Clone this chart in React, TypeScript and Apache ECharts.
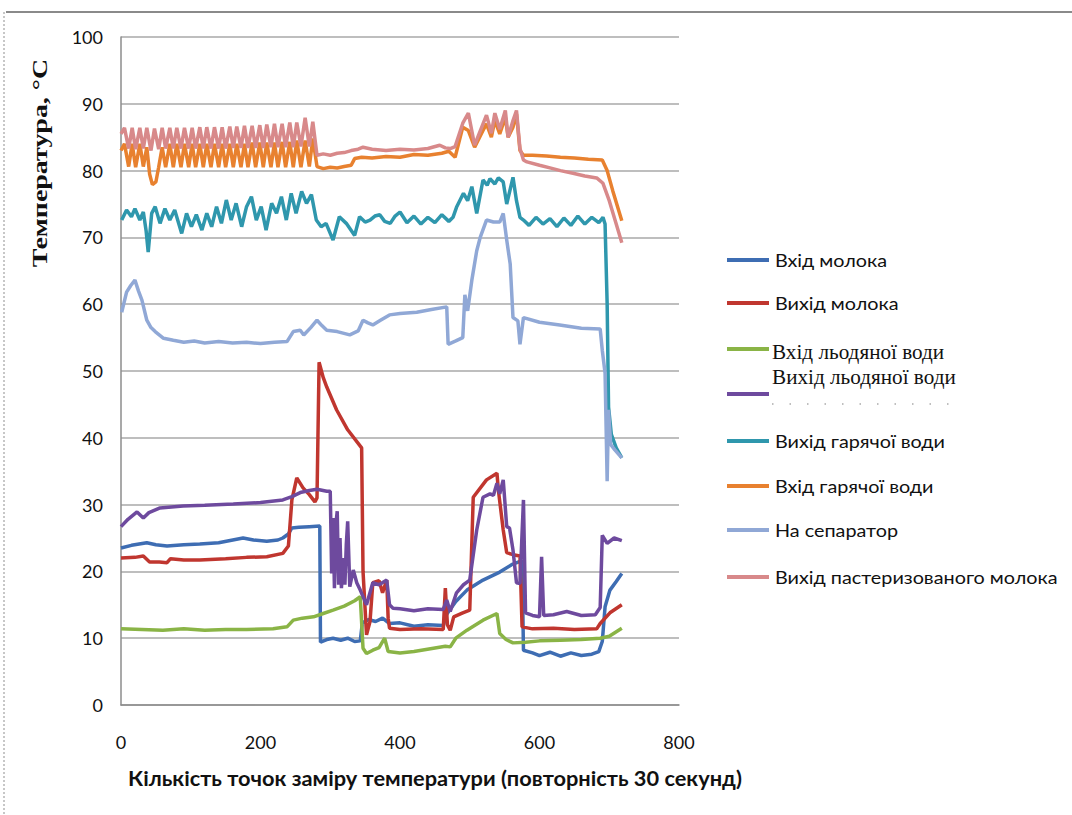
import { useEffect, useRef } from "react";
import * as echarts from "echarts";

// ---- data ----
const seriesNames = [
  "Вхід молока",
  "Вихід молока",
  "Вхід льодяної води",
  "Вихід льодяної води",
  "Вихід гарячої води",
  "Вхід гарячої води",
  "На сепаратор",
  "Вихід пастеризованого молока",
];
const seriesColors = ["#3E6DB3", "#C0362F", "#8AB446", "#6E4A9E", "#2F97AD", "#E8812F", "#90A8D6", "#D8898A"];

const xTicks = [0, 200, 400, 600, 800];
const yTicks = [0, 10, 20, 30, 40, 50, 60, 70, 80, 90, 100];

const milkIn = [
  [0, 23.5], [15, 23.9], [37, 24.3], [50, 24.0], [66, 23.8], [90, 24.0], [113, 24.1], [140, 24.3], [175, 25.0], [190, 24.7],
  [209, 24.5], [225, 24.7], [232, 25.0], [240, 25.6], [245, 26.5], [255, 26.6], [270, 26.7], [285, 26.8], [286, 9.4], [295, 9.8],
  [304, 10.0], [315, 9.7], [325, 10.0], [335, 9.5], [343, 9.6], [346, 12.3], [355, 12.8], [365, 12.5], [375, 13.0], [385, 12.2],
  [400, 12.3], [420, 11.8], [440, 12.0], [462, 11.9], [467, 13.6], [480, 15.5], [496, 17.2], [519, 18.7], [543, 19.9], [560, 21.0],
  [575, 21.6], [577, 8.2], [590, 7.8], [600, 7.4], [615, 7.9], [630, 7.3], [645, 7.8], [660, 7.4], [675, 7.6], [685, 8.0],
  [690, 9.5], [694, 14.7], [701, 17.2], [710, 18.5], [718, 19.7],
];

const milkOut = [
  [0, 22.0], [20, 22.1], [32, 22.3], [41, 21.4], [55, 21.4], [66, 21.3], [71, 21.9], [90, 21.7], [113, 21.7], [150, 21.9],
  [180, 22.1], [209, 22.2], [232, 22.7], [240, 23.8], [245, 30.7], [252, 34.0], [261, 32.5], [270, 31.5], [278, 30.4], [281, 31.0],
  [284, 51.3], [290, 49.0], [295, 47.6], [309, 44.2], [325, 41.2], [345, 38.5], [347, 20.0], [352, 10.5], [357, 12.5], [361, 18.3],
  [370, 18.6], [375, 16.8], [381, 18.7], [383, 13.0], [385, 11.5], [400, 11.3], [430, 11.4], [462, 11.3], [465, 17.5], [468, 12.0],
  [472, 11.2], [477, 13.2], [490, 13.8], [500, 14.2], [505, 31.1], [524, 33.7], [539, 34.7], [541, 32.2], [548, 26.2], [553, 22.8],
  [562, 22.5], [572, 22.3], [575, 11.7], [590, 11.4], [620, 11.5], [650, 11.3], [682, 11.4], [687, 12.2], [701, 13.8], [718, 15.0],
];

const iceWaterIn = [
  [0, 11.4], [30, 11.3], [60, 11.2], [90, 11.4], [120, 11.2], [150, 11.3], [180, 11.3], [218, 11.4], [238, 11.7], [247, 12.7],
  [260, 13.0], [276, 13.2], [290, 13.7], [304, 14.2], [320, 14.8], [335, 15.6], [343, 16.2], [347, 8.5], [352, 7.7], [361, 8.2],
  [370, 8.6], [378, 10.0], [383, 8.0], [400, 7.8], [420, 8.0], [448, 8.5], [465, 8.8], [472, 8.7], [480, 10.0], [496, 11.2],
  [519, 12.7], [539, 13.7], [543, 10.7], [552, 9.8], [562, 9.3], [580, 9.4], [600, 9.6], [630, 9.7], [660, 9.8], [687, 10.0],
  [700, 10.3], [718, 11.5],
];

const iceWaterOut = [
  [0, 26.7], [10, 27.8], [23, 28.9], [32, 28.0], [40, 28.8], [56, 29.5], [89, 29.8], [120, 29.9], [161, 30.1], [200, 30.3],
  [232, 30.7], [245, 31.2], [257, 31.8], [270, 32.1], [281, 32.3], [295, 32.0], [300, 32.0], [302, 19.7], [304, 28.0], [306, 17.5],
  [308, 27.0], [310, 29.0], [312, 18.0], [314, 25.0], [316, 17.5], [319, 22.0], [321, 18.0], [323, 24.0], [325, 27.5], [328, 17.7],
  [333, 20.2], [338, 18.3], [343, 17.2], [352, 15.0], [361, 18.3], [370, 18.0], [381, 18.7], [385, 15.0], [390, 14.5], [400, 14.4],
  [420, 14.1], [440, 14.4], [462, 14.3], [467, 15.7], [472, 14.0], [481, 16.8], [491, 18.0], [500, 18.7], [510, 26.2], [519, 31.1],
  [529, 31.6], [534, 31.4], [539, 33.2], [543, 31.6], [548, 33.7], [553, 26.7], [557, 26.5], [562, 23.2], [567, 18.3], [572, 18.2],
  [577, 30.7], [580, 13.8], [590, 13.4], [600, 13.2], [603, 22.2], [606, 13.4], [620, 13.5], [639, 14.0], [660, 13.4], [680, 13.5],
  [687, 14.6], [690, 25.4], [697, 24.2], [707, 25.0], [718, 24.6],
];

const hotWaterOut = [
  [1, 72.6], [8, 74.1], [15, 73.1], [20, 74.3], [27, 72.6], [32, 73.8], [36, 71.0], [39, 67.8], [44, 73.6], [49, 74.6],
  [56, 72.1], [63, 74.3], [70, 72.6], [77, 74.1], [87, 70.6], [94, 73.6], [101, 71.6], [108, 73.4], [116, 71.1], [123, 73.6],
  [130, 71.6], [137, 74.6], [144, 72.1], [151, 75.6], [158, 72.6], [165, 75.1], [173, 71.6], [180, 74.6], [187, 76.1], [194, 72.6],
  [201, 74.6], [208, 71.1], [216, 75.1], [223, 73.6], [230, 76.1], [237, 72.6], [244, 76.6], [251, 73.6], [259, 76.9], [266, 75.1],
  [273, 76.4], [280, 72.6], [287, 71.6], [294, 72.1], [304, 69.6], [313, 73.1], [323, 72.1], [335, 70.3], [342, 73.1], [350, 72.3],
  [357, 72.6], [364, 73.2], [371, 73.4], [378, 72.4], [386, 72.1], [393, 73.2], [400, 73.8], [410, 72.2], [420, 73.2], [430, 72.0],
  [440, 73.0], [450, 72.2], [460, 73.4], [470, 72.4], [476, 73.0], [481, 74.5], [491, 76.6], [497, 75.5], [503, 77.6], [510, 73.6],
  [519, 78.6], [525, 77.8], [529, 78.8], [536, 78.0], [541, 78.9], [548, 78.3], [553, 75.0], [562, 79.0], [567, 75.5], [572, 73.0],
  [577, 72.6], [585, 71.8], [595, 73.0], [605, 72.0], [615, 72.8], [625, 71.6], [635, 72.9], [645, 71.8], [655, 73.2], [665, 72.0],
  [675, 73.0], [685, 72.2], [691, 73.0], [694, 72.0], [697, 60.0], [699, 44.6], [703, 40.5], [710, 38.5], [718, 37.0],
];

const hotWaterIn = [
  [0, 83.0], [5, 84.0], [11, 80.6], [16, 84.0], [21, 80.5], [27, 84.0], [32, 80.6], [37, 83.5], [41, 79.5], [45, 77.9],
  [50, 78.3], [54, 80.5], [59, 83.5], [64, 80.5], [70, 84.0], [75, 80.5], [80, 84.0], [86, 80.5], [91, 84.0], [97, 80.5],
  [102, 84.0], [107, 80.5], [113, 84.0], [118, 80.5], [123, 84.0], [129, 80.5], [134, 84.0], [140, 80.5], [145, 84.0], [150, 80.5],
  [156, 84.0], [161, 80.5], [166, 84.0], [172, 80.5], [177, 84.0], [182, 80.5], [188, 84.2], [193, 80.5], [199, 84.2], [204, 80.5],
  [209, 84.2], [215, 80.5], [220, 84.2], [225, 80.5], [231, 84.3], [236, 80.5], [242, 84.3], [247, 80.5], [252, 84.5], [258, 80.5],
  [264, 84.5], [270, 80.6], [275, 84.8], [281, 80.6], [290, 80.3], [300, 80.5], [310, 80.4], [320, 80.6], [330, 80.8], [335, 81.8],
  [345, 82.0], [360, 81.9], [380, 82.1], [400, 82.0], [420, 82.4], [440, 82.3], [460, 82.6], [470, 82.9], [479, 82.0], [490, 86.5],
  [498, 86.0], [507, 83.5], [519, 86.0], [524, 87.0], [531, 85.0], [536, 87.5], [543, 85.5], [551, 88.0], [555, 85.0], [562, 86.5],
  [567, 88.5], [572, 83.0], [577, 82.3], [590, 82.3], [610, 82.2], [630, 82.0], [650, 81.9], [670, 81.7], [690, 81.6], [697, 80.0],
  [705, 77.0], [718, 72.5],
];

const toSeparator = [
  [1, 58.8], [8, 61.8], [14, 62.8], [20, 63.6], [25, 62.0], [30, 60.6], [37, 57.6], [43, 56.5], [49, 55.9], [61, 54.9],
  [75, 54.6], [90, 54.3], [105, 54.5], [120, 54.2], [140, 54.4], [160, 54.2], [180, 54.3], [200, 54.1], [220, 54.3], [238, 54.4],
  [247, 55.9], [257, 56.1], [262, 55.4], [272, 56.5], [281, 57.6], [288, 56.8], [295, 56.1], [310, 55.9], [328, 55.4], [340, 56.0],
  [347, 57.6], [354, 57.2], [361, 56.9], [372, 57.6], [385, 58.4], [400, 58.6], [424, 58.8], [445, 59.2], [467, 59.6], [469, 54.0],
  [480, 54.5], [490, 55.0], [493, 61.4], [497, 59.0], [503, 63.6], [510, 68.0], [515, 70.0], [524, 72.6], [534, 72.3], [543, 72.3],
  [548, 73.6], [553, 69.6], [558, 66.0], [562, 58.0], [569, 57.5], [572, 54.0], [577, 58.0], [600, 57.3], [629, 56.9], [660, 56.4],
  [687, 56.3], [690, 53.1], [694, 49.7], [697, 33.5], [699, 44.2], [702, 39.0], [708, 38.2], [718, 37.0],
];

const pasteurizedOut = [
  [0, 85.5], [5, 86.4], [11, 83.3], [16, 86.4], [21, 83.2], [27, 86.4], [32, 83.3], [37, 86.4], [43, 83.0], [48, 86.3],
  [54, 83.2], [59, 86.4], [64, 83.3], [70, 86.4], [75, 83.3], [80, 86.4], [86, 83.3], [91, 86.4], [97, 83.3], [102, 86.4],
  [107, 83.3], [113, 86.5], [118, 83.3], [123, 86.5], [129, 83.3], [134, 86.5], [140, 83.3], [145, 86.5], [150, 83.3], [156, 86.6],
  [161, 83.4], [166, 86.6], [172, 83.4], [177, 86.7], [182, 83.4], [188, 86.7], [193, 83.4], [199, 86.8], [204, 83.4], [209, 86.9],
  [215, 83.5], [220, 87.0], [225, 83.5], [231, 87.0], [236, 83.5], [242, 87.2], [247, 83.5], [252, 87.2], [258, 83.6], [264, 87.9],
  [270, 83.6], [275, 87.3], [281, 82.3], [290, 82.5], [300, 82.3], [310, 82.6], [320, 82.7], [330, 83.0], [340, 83.2], [347, 83.5],
  [360, 83.2], [380, 83.0], [400, 83.2], [420, 83.1], [440, 83.3], [457, 83.8], [465, 83.4], [472, 83.3], [479, 83.6], [490, 87.1],
  [498, 88.6], [507, 83.8], [519, 87.0], [524, 88.3], [531, 85.6], [536, 88.6], [543, 86.2], [551, 89.0], [555, 85.0], [562, 87.5],
  [567, 89.0], [572, 83.3], [577, 81.6], [582, 81.3], [600, 80.8], [615, 80.4], [630, 80.0], [648, 79.6], [665, 79.2], [682, 78.9],
  [691, 78.1], [700, 75.5], [710, 72.0], [718, 69.2],
];

const allSeries = [milkIn, milkOut, iceWaterIn, iceWaterOut, hotWaterOut, hotWaterIn, toSeparator, pasteurizedOut];

const xAxisTitle = "Кількість точок заміру температури (повторність 30 секунд)";
const yAxisTitle = "Температура, °C";

export default function App() {
  const ref = useRef<HTMLDivElement>(null);

  useEffect(() => {
    if (!ref.current) return;
    const chart = echarts.init(ref.current, undefined, { renderer: "svg" });

    const sans = "Lato, 'Open Sans', sans-serif";
    const serif = "'Liberation Serif', 'DejaVu Serif', serif";

    const legendYs = [260, 303, 349, 394, 441, 486, 530, 577];
    const legendGraphics: any[] = [];
    seriesNames.forEach((name, i) => {
      legendGraphics.push({
        type: "line",
        shape: { x1: 727, y1: legendYs[i], x2: 769, y2: legendYs[i] },
        style: { stroke: seriesColors[i], lineWidth: 4 },
      });
      const isSerif = i === 2 || i === 3;
      const ty = i === 2 ? 352 : i === 3 ? 377 : legendYs[i];
      legendGraphics.push({
        type: "text",
        x: isSerif ? 772 : 775,
        y: ty,
        scaleX: isSerif ? 1.06 : 1.1,
        style: {
          text: name,
          fill: "#111",
          font: isSerif ? `20px ${serif}` : `18px ${sans}`,
          textVerticalAlign: "middle",
          textAlign: "left",
        },
      });
    });

    chart.setOption({
      animation: false,
      backgroundColor: "#fff",
      grid: { left: 121, right: 393, top: 37, bottom: 110, containLabel: false },
      xAxis: {
        type: "value",
        min: xTicks[0],
        max: xTicks[xTicks.length - 1],
        interval: 200,
        axisLine: { show: true, lineStyle: { color: "#8c8c8c", width: 1.5 } },
        axisTick: { show: false },
        splitLine: { show: false },
        axisLabel: { color: "#111", fontSize: 18, fontFamily: sans, margin: 28 },
      },
      yAxis: {
        type: "value",
        min: yTicks[0],
        max: yTicks[yTicks.length - 1],
        interval: 10,
        axisLine: { show: true, lineStyle: { color: "#8c8c8c", width: 1.5 } },
        axisTick: { show: false },
        splitLine: { show: true, lineStyle: { color: "#a8a8a8", width: 1.5 } },
        axisLabel: { color: "#111", fontSize: 18, fontFamily: sans, margin: 18 },
      },
      series: allSeries.map((d, i) => ({
        name: seriesNames[i],
        type: "line",
        data: d,
        showSymbol: false,
        symbol: "none",
        lineStyle: { color: seriesColors[i], width: 3.5 },
        itemStyle: { color: seriesColors[i] },
        z: 2 + i,
      })),
      graphic: [
        // page frame
        { type: "line", shape: { x1: 6, y1: 12, x2: 1072, y2: 12 }, style: { stroke: "#8a8a8a", lineWidth: 2 } },
        { type: "line", shape: { x1: 4, y1: 12, x2: 4, y2: 815 }, style: { stroke: "#b5b5b5", lineWidth: 1.5, lineDash: [2, 2] } },
        // y axis title
        {
          type: "text",
          x: 40,
          y: 163,
          rotation: Math.PI / 2,
          scaleX: 1.27,
          style: {
            text: yAxisTitle,
            fill: "#111",
            font: `bold 22px ${serif}`,
            textAlign: "center",
            textVerticalAlign: "middle",
          },
        },
        // x axis title
        {
          type: "text",
          x: 435,
          y: 778,
          scaleX: 1.09,
          style: {
            text: xAxisTitle,
            fill: "#111",
            font: `bold 20px ${sans}`,
            textAlign: "center",
            textVerticalAlign: "middle",
          },
        },
        // faint dotted remnants under legend
        { type: "line", shape: { x1: 772, y1: 404, x2: 955, y2: 404 }, style: { stroke: "#aaa", lineWidth: 1.5, lineDash: [1.5, 16] } },
        ...legendGraphics,
      ],
    });

    return () => chart.dispose();
  }, []);

  return <div ref={ref} style={{ position: "fixed", left: 0, top: 0, width: 1072, height: 815 }} />;
}
